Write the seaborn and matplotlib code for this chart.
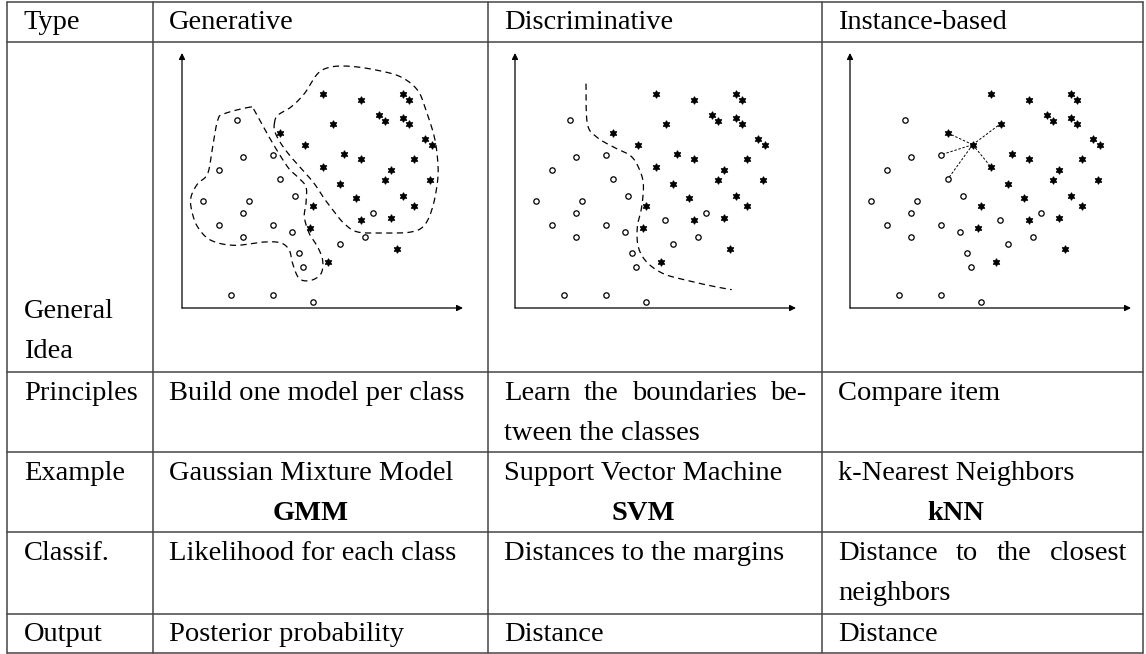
import numpy as np
import matplotlib
matplotlib.use("Agg")
import matplotlib.pyplot as plt
import seaborn as sns

# table text
header = ["Type", "Generative", "Discriminative", "Instance-based"]
row_labels = [["General", "Idea"], ["Principles"], ["Example"], ["Classif."], ["Output"]]
principles = [["Build one model per class"],
              ["Learn the boundaries be-", "tween the classes"],
              ["Compare item"]]
example_names = ["Gaussian Mixture Model", "Support Vector Machine", "k-Nearest Neighbors"]
example_short = ["GMM", "SVM", "kNN"]
classif = [["Likelihood for each class"],
           ["Distances to the margins"],
           ["Distance to the closest", "neighbors"]]
outputs = ["Posterior probability", "Distance", "Distance"]

# toy data shown in the three sketches (same cloud in each)
circle_x = [165, 183, 274, 110, 293, 63, 201, 183, 338, 110, 274, 329, 183, 573, 449,
            549, 474, 351, 364, 147, 274, 392]
circle_y = [565, 454, 460, 414, 386, 322, 322, 286, 337, 250, 250, 229, 213, 286, 265,
            213, 193, 166, 123, 38, 38, 18]
star_x = [423, 537, 662, 681, 591, 610, 662, 681, 452, 293, 368, 485, 537, 730, 749,
          697, 423, 627, 609, 743, 474, 521, 662, 697, 392, 537, 627, 384, 644, 438]
star_y = [643, 625, 643, 623, 578, 560, 570, 551, 553, 525, 490, 463, 446, 507, 489,
          446, 423, 415, 383, 383, 371, 330, 337, 306, 306, 265, 271, 241, 176, 138]
gmm_hidden_circle = 14  # not drawn in the generative sketch

# GMM class contours (control points)
blob_a_x = [207, 127, 107, 92, 77, 47, 27, 29, 47, 87, 157, 247, 297, 322, 332, 352,
            387, 417, 422, 407, 382, 367, 372, 372, 347, 317, 267, 217]
blob_a_y = [603, 583, 563, 483, 403, 373, 333, 293, 243, 203, 188, 198, 195, 173, 133,
            88, 83, 103, 143, 183, 223, 273, 313, 363, 393, 423, 503, 593]
blob_b_x = [277, 287, 327, 367, 407, 447, 507, 587, 657, 707, 732, 757, 767, 767, 752,
            727, 687, 607, 527, 487, 457, 427, 397, 367, 327, 297, 279]
blob_b_y = [553, 578, 603, 643, 703, 723, 725, 713, 693, 653, 593, 513, 443, 383, 303,
            248, 228, 225, 228, 253, 288, 328, 373, 408, 453, 493, 528]

# SVM boundary
svm_x = [213, 217, 245, 295, 345, 370, 385, 380, 367, 370, 395, 445, 515, 595, 650]
svm_y = [673, 553, 513, 483, 458, 423, 373, 303, 243, 183, 138, 103, 83, 65, 55]

# kNN query and its neighbours
knn_query = 10
knn_star_nb = [9, 8, 16]
knn_circle_nb = [2, 4]

W, H = 1146, 654
col_edges = [7, 153, 488, 822, 1143]
row_edges = [2, 42, 372, 452, 532, 614, 653]
PAD = 16
FS = 20.5
LINE = 40


def catmull(px, py, closed, n=16):
    P = np.column_stack([px, py]).astype(float)
    if closed:
        P = np.vstack([P[-1], P, P[0], P[1]])
    else:
        P = np.vstack([P[0], P, P[-1]])
    t = np.linspace(0, 1, n, endpoint=False)[:, None]
    out = []
    for i in range(1, len(P) - 2):
        p0, p1, p2, p3 = P[i - 1], P[i], P[i + 1], P[i + 2]
        seg = 0.5 * (2 * p1 + (-p0 + p2) * t + (2 * p0 - 5 * p1 + 4 * p2 - p3) * t ** 2
                     + (-p0 + 3 * p1 - 3 * p2 + p3) * t ** 3)
        out.append(seg)
    out.append(P[-2][None])
    return np.vstack(out)


sns.set_theme(style="white")
plt.rcParams["font.family"] = ["Liberation Serif", "DejaVu Serif"]

fig = plt.figure(figsize=(W / 100, H / 100), dpi=100)
bg = fig.add_axes([0, 0, 1, 1])
bg.set_xlim(0, W)
bg.set_ylim(H, 0)
bg.axis("off")

line_kw = dict(color="#454545", lw=1.1)
for y in row_edges:
    bg.plot([col_edges[0], col_edges[-1]], [y, y], **line_kw)
for x in col_edges:
    bg.plot([x, x], [row_edges[0], row_edges[-1]], **line_kw)

renderer = fig.canvas.get_renderer()


def put(x, y, s, **kw):
    return bg.text(x, y, s, fontsize=FS, va="baseline", color="black", **kw)


def put_justified(x0, x1, y, s):
    words = s.split()
    arts = [put(0, y, w) for w in words]
    widths = [a.get_window_extent(renderer).width for a in arts]
    gap = (x1 - x0 - sum(widths)) / (len(words) - 1)
    x = x0
    for a, w in zip(arts, widths):
        a.set_x(x)
        x += w + gap


# header
for j, h in enumerate(header):
    put(col_edges[j] + PAD, row_edges[0] + 27, h)

# left column labels
label_base = [318, 400, 480, 560, 641]
for lines, b in zip(row_labels, label_base):
    for k, s in enumerate(lines):
        put(col_edges[0] + 17, b + k * LINE, s)

for j in range(3):
    x0 = col_edges[j + 1] + PAD
    x1 = col_edges[j + 2] - PAD
    # principles
    p = principles[j]
    for k, s in enumerate(p):
        if k < len(p) - 1:
            put_justified(x0, x1, 400 + k * LINE, s)
        else:
            put(x0, 400 + k * LINE, s)
    # examples
    t = put(x0, 480, example_names[j])
    wname = t.get_window_extent(renderer).width
    put(x0 + wname / 2, 520, example_short[j], ha="center", fontweight="bold")
    # classification
    c = classif[j]
    for k, s in enumerate(c):
        if k < len(c) - 1:
            put_justified(x0, x1, 560 + k * LINE, s)
        else:
            put(x0, 560 + k * LINE, s)
    # output
    put(x0, 641, outputs[j])

# sketches
origins = [182, 515, 850]
AX_W, AX_H = 281, 255
X_AXIS = 308
for j, ox in enumerate(origins):
    ax = fig.add_axes([ox / W, (H - X_AXIS) / H, AX_W / W, AX_H / H])
    ax.set_xlim(0, AX_W * 3)
    ax.set_ylim(0, AX_H * 3)
    ax.axis("off")
    arrow = dict(arrowstyle="-|>", color="black", lw=0.9, mutation_scale=9,
                 shrinkA=0, shrinkB=0)
    ax.annotate("", xy=(AX_W * 3, 0), xytext=(0, 0), arrowprops=arrow, annotation_clip=False)
    ax.annotate("", xy=(0, AX_H * 3), xytext=(0, 0), arrowprops=arrow, annotation_clip=False)

    dash = (0, (5, 3.5))
    if j == 0:
        for bx, by in [(blob_a_x, blob_a_y), (blob_b_x, blob_b_y)]:
            c = catmull(bx, by, closed=True)
            ax.plot(c[:, 0], c[:, 1], color="black", lw=0.9, ls=dash)
        keep = [i for i in range(len(circle_x)) if i != gmm_hidden_circle]
    else:
        keep = list(range(len(circle_x)))
    if j == 1:
        c = catmull(svm_x, svm_y, closed=False)
        ax.plot(c[:, 0], c[:, 1], color="black", lw=0.9, ls=dash)
    if j == 2:
        qx, qy = star_x[knn_query], star_y[knn_query]
        nbs = [(star_x[i], star_y[i]) for i in knn_star_nb] + \
              [(circle_x[i], circle_y[i]) for i in knn_circle_nb]
        for nx, ny in nbs:
            ax.plot([qx, nx], [qy, ny], color="black", lw=0.7, ls=(0, (2.5, 1.8)))

    sns.scatterplot(x=[circle_x[i] for i in keep], y=[circle_y[i] for i in keep], ax=ax,
                    marker="o", s=15, facecolor="white", edgecolor="black",
                    linewidth=0.9, zorder=3, legend=False, clip_on=False)
    sns.scatterplot(x=star_x, y=star_y, ax=ax, marker=(6, 1, 0), s=24, color="black",
                    edgecolor="black", linewidth=1.0, zorder=3, legend=False, clip_on=False)

fig.savefig("out.png", dpi=100)
